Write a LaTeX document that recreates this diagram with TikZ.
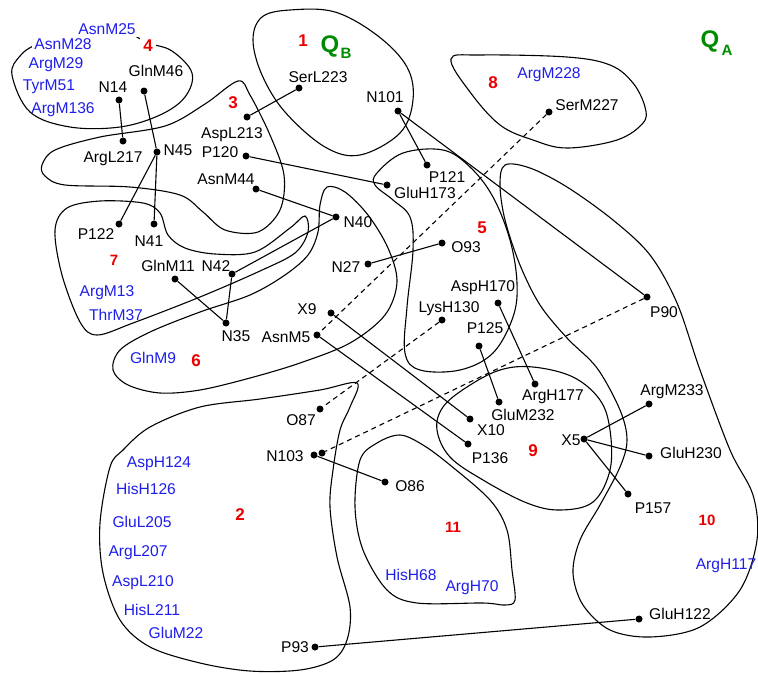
\documentclass[tikz,border=0pt]{standalone}
\usepackage{fontspec}
\setmainfont{Liberation Sans}
\definecolor{resblue}{RGB}{30,30,235}
\definecolor{resred}{RGB}{235,0,0}
\definecolor{resgreen}{RGB}{0,140,0}
\begin{document}
\begin{tikzpicture}[x=1pt,y=-1pt,
  dot/.style={circle,fill=black,inner sep=0pt,minimum size=7pt},
  lbl/.style={font=\fontsize{15.6}{18}\selectfont, inner sep=0pt, text height=11.2pt, text depth=0pt},
  blbl/.style={lbl,text=resblue},
  wlbl/.style={blbl,fill=white,inner sep=2pt},
  rnum/.style={font=\fontsize{17}{20}\selectfont\bfseries, text=resred, inner sep=0pt, text height=12.2pt, text depth=0pt},
  rnums/.style={font=\fontsize{15}{18}\selectfont\bfseries, text=resred, inner sep=0pt, text height=10.7pt, text depth=0pt},
  qlbl/.style={font=\fontsize{24}{28}\selectfont\bfseries, text=resgreen, inner sep=0pt},
  qsub/.style={font=\fontsize{15}{18}\selectfont\bfseries, text=resgreen, inner sep=0pt},
  region/.style={draw=black, line width=1.1pt},
  link/.style={draw=black, line width=1.1pt},
  dlink/.style={draw=black, line width=1.1pt, dash pattern=on 5pt off 4pt},
]
\useasboundingbox (0,0) rectangle (758,673);

% ---------- regions ----------
% 4
\draw[region] plot[smooth cycle, tension=0.6] coordinates {(12,75) (20,56) (36,45) (62,41) (92,35) (126,33) (148,43) (172,51) (192,73) (185,97) (160,115) (120,127) (70,127) (30,112)};
% 1
\draw[region] plot[smooth cycle, tension=0.6] coordinates {(253,40) (262,17) (290,10) (335,12) (378,36) (407,67) (413,100) (400,133) (360,155) (325,147) (285,112) (262,75)};
% 3
\draw[region] plot[smooth cycle, tension=0.55] coordinates {(42,165) (55,150) (100,137) (165,126) (205,104) (238,81) (250,95) (270,135) (284,175) (280,210) (258,232) (225,230) (203,212) (180,195) (130,187) (65,185) (45,176)};
% 7
\draw[region] plot[smooth cycle, tension=0.55] coordinates {(55,230) (67,208) (100,201) (143,203) (160,213) (168,235) (185,248) (215,254) (255,252) (290,228) (305,216) (308,232) (295,253) (260,271) (200,297) (133,323) (97,335) (80,322) (62,275)};
% 6
\draw[region] plot[smooth cycle, tension=0.55] coordinates {(113,370) (120,350) (150,332) (200,312) (250,295) (285,275) (308,255) (318,232) (320,205) (327,187) (345,192) (368,215) (388,248) (397,282) (385,315) (350,343) (300,363) (250,378) (200,390) (160,393) (128,385)};
% 5
\draw[region] plot[smooth cycle, tension=0.6] coordinates {(377,173) (403,153) (443,150) (470,167) (493,197) (510,240) (517,283) (513,317) (493,353) (460,370) (420,370) (405,353) (407,307) (413,250) (410,217) (393,200) (375,185)};
% 8
\draw[region] plot[smooth cycle, tension=0.6] coordinates {(451,59) (480,55) (567,57) (610,65) (633,83) (645,107) (643,123) (617,140) (567,148) (533,140) (500,125) (470,92)};
% 10
\draw[region] plot[smooth cycle, tension=0.55] coordinates {(505,165) (530,168) (567,187) (613,220) (650,255) (677,303) (700,370) (730,450) (753,495) (757,540) (740,590) (700,627) (650,637) (610,630) (583,605) (573,573) (580,540) (600,505) (620,467) (627,440) (620,410) (597,368) (567,338) (540,305) (520,265) (505,220) (500,185)};
% 9
\draw[region] plot[smooth cycle, tension=0.6] coordinates {(467,387) (500,370) (533,367) (573,377) (600,400) (610,430) (610,470) (593,502) (560,510) (527,503) (483,480) (450,457) (437,430) (443,407)};
% 11
\draw[region] plot[smooth cycle, tension=0.55] coordinates {(360,460) (377,443) (400,435) (423,445) (450,465) (490,500) (507,530) (512,570) (515,600) (505,605) (483,603) (417,603) (387,590) (363,550) (355,507)};
% 2
\draw[region] plot[smooth cycle, tension=0.55] coordinates {(123,450) (150,427) (200,407) (260,399) (320,390) (357,383) (350,407) (340,430) (333,470) (330,507) (337,557) (350,607) (347,640) (333,660) (300,670) (250,671) (200,663) (150,647) (120,620) (103,573) (100,523) (110,467)};

% ---------- atoms (dots) ----------
\node[dot] (n14) at (119,100) {};
\node[dot] (glnm46) at (144,91) {};
\node[dot] (argl217) at (123,141) {};
\node[dot] (n45) at (157,152) {};
\node[dot] (p122) at (119,224) {};
\node[dot] (n41) at (154,224) {};
\node[dot] (aspl213) at (247,117) {};
\node[dot] (serl223) at (299,88) {};
\node[dot] (p120) at (246,156) {};
\node[dot] (gluh173) at (387,185) {};
\node[dot] (asnm44) at (256,189) {};
\node[dot] (n40) at (336,217) {};
\node[dot] (n42) at (232,274) {};
\node[dot] (glnm11) at (175,279) {};
\node[dot] (n35) at (226,323) {};
\node[dot] (n101) at (398,111) {};
\node[dot] (p121) at (427,165) {};
\node[dot] (p90) at (647,297) {};
\node[dot] (o93) at (442,243) {};
\node[dot] (n27) at (368,264) {};
\node[dot] (x9) at (331,313) {};
\node[dot] (x10) at (470,419) {};
\node[dot] (asnm5) at (317,335) {};
\node[dot] (p136) at (468,444) {};
\node[dot] (lysh130) at (442,320) {};
\node[dot] (o87) at (320,409) {};
\node[dot] (asph170) at (498,303) {};
\node[dot] (argh177) at (535,384) {};
\node[dot] (p125) at (479,346) {};
\node[dot] (glum232) at (499,402) {};
\node[dot] (n103) at (314,455) {};
\node[dot] (n103b) at (322,453) {};
\node[dot] (o86) at (385,482) {};
\node[dot] (p93) at (315,647) {};
\node[dot] (gluh122) at (639,619) {};
\node[dot] (x5) at (584,439) {};
\node[dot] (argm233) at (649,404) {};
\node[dot] (gluh230) at (649,456) {};
\node[dot] (p157) at (628,494) {};
\node[dot] (serm227) at (549,112) {};

% ---------- connectors ----------
\draw[link] (n14) -- (argl217);
\draw[link] (glnm46) -- (n45);
\draw[link] (n45) -- (p122);
\draw[link] (n45) -- (n41);
\draw[link] (aspl213) -- (serl223);
\draw[link] (p120) -- (gluh173);
\draw[link] (asnm44) -- (n40);
\draw[link] (n40) -- (n42);
\draw[link] (n42) -- (n35);
\draw[link] (glnm11) -- (n35);
\draw[link] (n101) -- (p121);
\draw[link] (n101) -- (p90);
\draw[link] (n27) -- (o93);
\draw[link] (x9) -- (x10);
\draw[link] (asnm5) -- (p136);
\draw[link] (asph170) -- (argh177);
\draw[link] (p125) -- (glum232);
\draw[link] (x5) -- (argm233);
\draw[link] (x5) -- (gluh230);
\draw[link] (x5) -- (p157);
\draw[link] (n103) -- (o86);
\draw[link] (p93) -- (gluh122);
\draw[dlink] (serm227) -- (asnm5);
\draw[dlink] (lysh130) -- (o87);
\draw[dlink] (p90) -- (n103b);

% ---------- black labels ----------
\node[lbl] (ln14) at (113,87) {N14};
\node[lbl] (lglnm46) at (156,71) {GlnM46};
\node[lbl] (largl217) at (113,157) {ArgL217};
\node[lbl] (ln45) at (178,150) {N45};
\node[lbl] (lp122) at (96,234) {P122};
\node[lbl] (ln41) at (149,241) {N41};
\node[lbl] (laspl213) at (232,133) {AspL213};
\node[lbl] (lserl223) at (318,77) {SerL223};
\node[lbl] (lp120) at (220,152) {P120};
\node[lbl] (lgluh173) at (425,193) {GluH173};
\node[lbl] (lasnm44) at (226,179) {AsnM44};
\node[lbl] (ln40) at (358,222) {N40};
\node[lbl] (ln42) at (216,266) {N42};
\node[lbl] (lglnm11) at (168,266) {GlnM11};
\node[lbl] (ln35) at (236,336) {N35};
\node[lbl] (ln101) at (385,97) {N101};
\node[lbl] (lp121) at (447,177) {P121};
\node[lbl] (lp90) at (664,312) {P90};
\node[lbl] (lo93) at (466,247) {O93};
\node[lbl] (ln27) at (346,267) {N27};
\node[lbl] (lx9) at (307,309) {X9};
\node[lbl] (lx10) at (491,430) {X10};
\node[lbl] (lasnm5) at (286,337) {AsnM5};
\node[lbl] (lp136) at (490,458) {P136};
\node[lbl] (llysh130) at (449,307) {LysH130};
\node[lbl] (lo87) at (301,420) {O87};
\node[lbl] (lasph170) at (483,286) {AspH170};
\node[lbl] (largh177) at (553,395) {ArgH177};
\node[lbl] (lp125) at (485,328) {P125};
\node[lbl] (lglum232) at (523,415) {GluM232};
\node[lbl] (ln103) at (285,456) {N103};
\node[lbl] (lo86) at (410,486) {O86};
\node[lbl] (lp93) at (295,647) {P93};
\node[lbl] (lgluh122) at (680,614) {GluH122};
\node[lbl] (lx5) at (571,440) {X5};
\node[lbl] (largm233) at (672,390) {ArgM233};
\node[lbl] (lgluh230) at (691,453) {GluH230};
\node[lbl] (lp157) at (653,508) {P157};
\node[lbl] (lserm227) at (587,105) {SerM227};

% ---------- blue labels ----------
\node[wlbl] (basnm25) at (107,29) {AsnM25};
\node[wlbl] (basnm28) at (63,44) {AsnM28};
\node[blbl] (bargm29) at (56,63) {ArgM29};
\node[blbl] (btyrm51) at (49,85) {TyrM51};
\node[blbl] (bargm136) at (63,108) {ArgM136};
\node[blbl] (bargm13) at (107,291) {ArgM13};
\node[blbl] (bthrm37) at (116,315) {ThrM37};
\node[blbl] (bglnm9) at (153,358) {GlnM9};
\node[blbl] (bargm228) at (549,73) {ArgM228};
\node[blbl] (basph124) at (159,462) {AspH124};
\node[blbl] (bhish126) at (146,489) {HisH126};
\node[blbl] (bglul205) at (142,522) {GluL205};
\node[blbl] (bargl207) at (138,551) {ArgL207};
\node[blbl] (baspl210) at (143,581) {AspL210};
\node[blbl] (bhisl211) at (152,610) {HisL211};
\node[blbl] (bglum22) at (176,633) {GluM22};
\node[blbl] (bhish68) at (411,575) {HisH68};
\node[blbl] (bargh70) at (472,586) {ArgH70};
\node[blbl] (bargh117) at (726,564) {ArgH117};

% ---------- region numbers ----------
\node[rnum] (r1) at (303,40) {1};
\node[rnum] (r2) at (240,514) {2};
\node[rnum] (r3) at (233,102) {3};
\node[rnum, fill=white, inner sep=3pt] (r4) at (148,45) {4};
\node[rnum] (r5) at (482,227) {5};
\node[rnum] (r6) at (196,360) {6};
\node[rnums] (r7) at (114,260) {7};
\node[rnum] (r8) at (493,82) {8};
\node[rnum] (r9) at (533,450) {9};
\node[rnums] (r10) at (707,520) {10};
\node[rnums] (r11) at (453,527) {11};

% ---------- quinones ----------
\node[qlbl] (qb) at (330,46) {Q};
\node[qsub] (qbs) at (346,53) {B};
\node[qlbl] (qa) at (710,41) {Q};
\node[qsub] (qas) at (727,50) {A};
\end{tikzpicture}
\end{document}
